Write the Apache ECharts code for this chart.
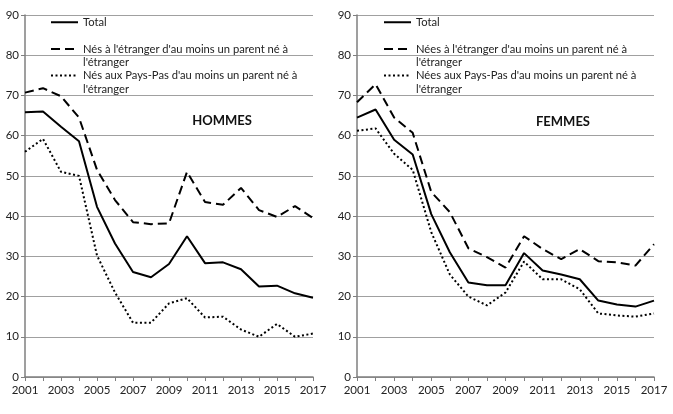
<!DOCTYPE html>
<html>
<head>
<meta charset="utf-8">
<script src="https://cdn.jsdelivr.net/npm/echarts@6/dist/echarts.min.js"></script>
<style>
html, body { margin: 0; padding: 0; background: #fff; }
#main { width: 673px; height: 414px; }
</style>
</head>
<body>
<div id="main"></div>
<script>
var years = ['2001','2002','2003','2004','2005','2006','2007','2008','2009','2010','2011','2012','2013','2014','2015','2016','2017'];

// HOMMES
var hommesTotal    = [65.8, 66.0, 62.2, 58.6, 42.3, 33.2, 26.1, 24.8, 28.1, 35.0, 28.3, 28.5, 26.8, 22.5, 22.7, 20.8, 19.7];
var hommesEtranger = [70.7, 71.8, 69.8, 64.5, 51.5, 44.0, 38.5, 38.0, 38.2, 51.0, 43.5, 42.8, 47.0, 41.5, 39.8, 42.5, 39.5];
var hommesPaysBas  = [56.0, 59.2, 51.0, 50.0, 30.2, 21.0, 13.5, 13.5, 18.3, 19.6, 14.8, 15.0, 11.8, 10.0, 13.2, 10.0, 10.8];

// FEMMES
var femmesTotal    = [64.5, 66.5, 59.0, 55.3, 40.5, 31.0, 23.5, 22.8, 22.8, 30.8, 26.5, 25.5, 24.3, 19.0, 18.0, 17.5, 19.0];
var femmesEtranger = [68.3, 72.8, 64.5, 60.7, 46.0, 41.0, 32.0, 29.8, 27.2, 35.0, 31.8, 29.3, 31.8, 28.8, 28.5, 27.7, 33.0];
var femmesPaysBas  = [61.2, 61.8, 55.5, 51.5, 36.0, 25.5, 20.0, 17.8, 21.0, 28.7, 24.3, 24.3, 21.8, 15.8, 15.3, 15.0, 15.8];

var namesH = ['Total', "Nés à l'étranger d'au moins un parent né à\nl'étranger", "Nés aux Pays-Pas d'au moins un parent né à\nl'étranger"];
var namesF = ['Total ', "Nées à l'étranger d'au moins un parent né à\nl'étranger", "Nées aux Pays-Pas d'au moins un parent né à\nl'étranger"];

var font = 'Lato';
var lh = 13.5;
var styles = [
    { color: '#000', width: 2, type: 'solid' },
    { color: '#000', width: 2, type: [9, 5] },
    { color: '#000', width: 2, type: [2, 2.5] }
];
// vertical centre of each legend entry's first line
var legendRows = [22.5, 49, 75.5];

function xAxisFor(idx) {
    return {
        type: 'category', gridIndex: idx, data: years, boundaryGap: false,
        axisLine: { lineStyle: { color: '#7f7f7f', width: 1.5 } },
        axisTick: { interval: 0, length: 4, lineStyle: { color: '#7f7f7f' } },
        axisLabel: { interval: 1, color: '#222', fontFamily: font, fontSize: 11.5, margin: 7 },
        splitLine: { show: false }
    };
}
function yAxisFor(idx) {
    return {
        type: 'value', gridIndex: idx, min: 0, max: 90, interval: 10,
        axisLine: { show: true, lineStyle: { color: '#7f7f7f', width: 1.5 } },
        axisTick: { show: true, length: 4, lineStyle: { color: '#7f7f7f' } },
        axisLabel: { color: '#222', fontFamily: font, fontSize: 11.5, margin: 6 },
        splitLine: { lineStyle: { color: '#a0a0a0', width: 1 } }
    };
}
function lineSeries(name, idx, data, st) {
    return {
        name: name, type: 'line', xAxisIndex: idx, yAxisIndex: idx,
        data: data, symbol: 'none', animation: false,
        lineStyle: st, itemStyle: { color: '#000' }
    };
}
function legendItem(name, i, left) {
    var twoLines = i > 0;
    return {
        orient: 'vertical', left: left, padding: 0,
        // a blank first line pushes the icon level with the text's first line
        top: twoLines ? legendRows[i] - 1.5 * lh : legendRows[i] - 7,
        itemWidth: 27, itemHeight: 14,
        data: [name],
        formatter: function (n) { return twoLines ? ' \n' + n : n; },
        itemStyle: { opacity: 0 },
        textStyle: { color: '#222', fontFamily: font, fontSize: 11.2, lineHeight: lh }
    };
}

var legends = [];
namesH.forEach(function (n, i) { legends.push(legendItem(n, i, 50)); });
namesF.forEach(function (n, i) { legends.push(legendItem(n, i, 383)); });

var chart = echarts.init(document.getElementById('main'));
var option = {
    backgroundColor: '#fff',
    animation: false,
    title: [
        { text: 'HOMMES', left: 217, top: 109, textAlign: 'center',
          textStyle: { fontFamily: font, fontSize: 13, fontWeight: 'bold', color: '#111' } },
        { text: 'FEMMES', left: 558, top: 110, textAlign: 'center',
          textStyle: { fontFamily: font, fontSize: 13, fontWeight: 'bold', color: '#111' } }
    ],
    legend: legends,
    grid: [
        { left: 25, top: 15, width: 288, height: 362 },
        { left: 357, top: 15, width: 297, height: 362 }
    ],
    xAxis: [xAxisFor(0), xAxisFor(1)],
    yAxis: [yAxisFor(0), yAxisFor(1)],
    series: [
        lineSeries(namesH[0], 0, hommesTotal, styles[0]),
        lineSeries(namesH[1], 0, hommesEtranger, styles[1]),
        lineSeries(namesH[2], 0, hommesPaysBas, styles[2]),
        lineSeries(namesF[0], 1, femmesTotal, styles[0]),
        lineSeries(namesF[1], 1, femmesEtranger, styles[1]),
        lineSeries(namesF[2], 1, femmesPaysBas, styles[2])
    ]
};
chart.setOption(option);
</script>
</body>
</html>
